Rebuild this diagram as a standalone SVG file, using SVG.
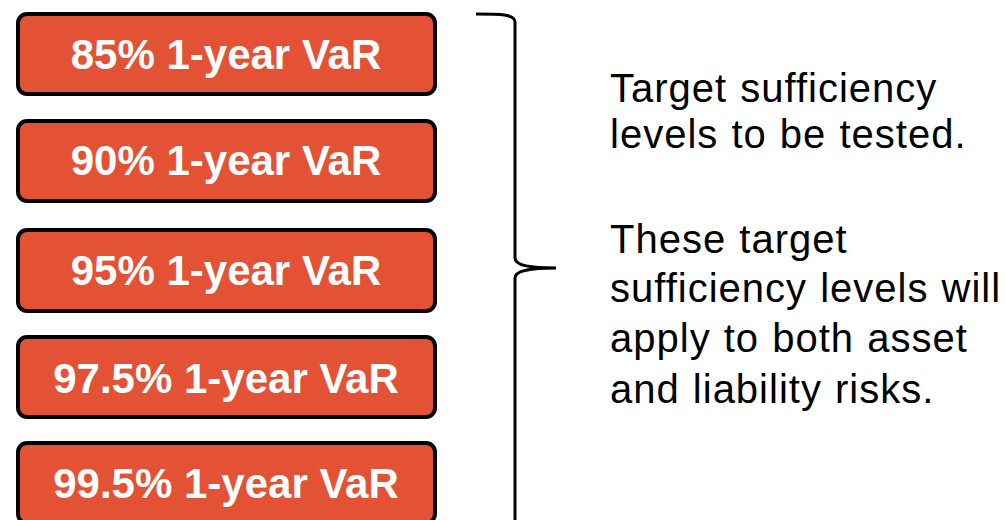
<svg xmlns="http://www.w3.org/2000/svg" width="1006" height="520" viewBox="0 0 1006 520">
<style>
.box{fill:#E35234;stroke:#000;stroke-width:4}
.bt{font-family:"Liberation Sans",Arial,sans-serif;font-weight:bold;font-size:42px;fill:#fff;text-anchor:middle}
.rt{font-family:"Liberation Sans",Arial,sans-serif;font-size:40px;fill:#000;letter-spacing:1px;word-spacing:1px}
.brace{fill:none;stroke:#000;stroke-width:3}
</style>
<rect width="1006" height="520" fill="#fff"/>
<g id="n1"><rect class="box" x="18" y="14" width="417" height="80" rx="9"/><text class="bt" x="226" y="69">85% 1-year VaR</text></g>
<g id="n2"><rect class="box" x="18" y="121" width="417" height="80" rx="9"/><text class="bt" x="226" y="175">90% 1-year VaR</text></g>
<g id="n3"><rect class="box" x="18" y="230" width="417" height="81" rx="9"/><text class="bt" x="226" y="285">95% 1-year VaR</text></g>
<g id="n4"><rect class="box" x="18" y="337" width="417" height="80" rx="9"/><text class="bt" x="226" y="393">97.5% 1-year VaR</text></g>
<g id="n5"><rect class="box" x="18" y="443" width="417" height="80" rx="9"/><text class="bt" x="226" y="498">99.5% 1-year VaR</text></g>
<g id="connectors">
<path class="brace" d="M476,14 C500,14 515,14 515,22 L515,258 C515,265 528,268 556,268 C528,268 515,271 515,278 L515,524"/>
</g>
<g id="label">
<text class="rt" x="610" y="102">Target sufficiency</text>
<text class="rt" x="610" y="148">levels to be tested.</text>
<text class="rt" x="610" y="253">These target</text>
<text class="rt" x="610" y="302">sufficiency levels will</text>
<text class="rt" x="610" y="352">apply to both asset</text>
<text class="rt" x="610" y="403">and liability risks.</text>
</g>
</svg>
